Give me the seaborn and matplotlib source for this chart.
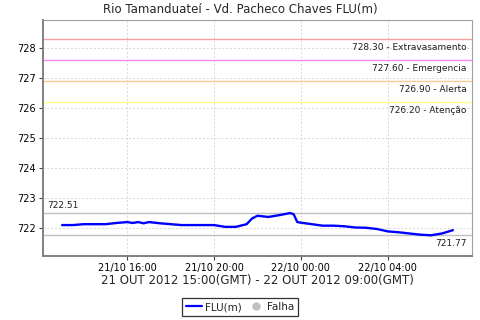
import matplotlib
matplotlib.use("Agg")
import matplotlib.pyplot as plt
import matplotlib.dates as mdates
from matplotlib.lines import Line2D
import seaborn as sns
import pandas as pd
import numpy as np

# ---- data ----
times = ["2012-10-21 13:00", "2012-10-21 13:30", "2012-10-21 14:00", "2012-10-21 14:30",
         "2012-10-21 15:00", "2012-10-21 15:30", "2012-10-21 16:00", "2012-10-21 16:15",
         "2012-10-21 16:30", "2012-10-21 16:45", "2012-10-21 17:00", "2012-10-21 17:15",
         "2012-10-21 17:30", "2012-10-21 18:00", "2012-10-21 18:30", "2012-10-21 19:00",
         "2012-10-21 19:30", "2012-10-21 20:00", "2012-10-21 20:30", "2012-10-21 21:00",
         "2012-10-21 21:30", "2012-10-21 21:45", "2012-10-21 22:00", "2012-10-21 22:30",
         "2012-10-21 23:00", "2012-10-21 23:30", "2012-10-21 23:40", "2012-10-21 23:50",
         "2012-10-22 00:00", "2012-10-22 00:30", "2012-10-22 01:00", "2012-10-22 01:30",
         "2012-10-22 02:00", "2012-10-22 02:30", "2012-10-22 03:00", "2012-10-22 03:30",
         "2012-10-22 04:00", "2012-10-22 04:30", "2012-10-22 05:00", "2012-10-22 05:30",
         "2012-10-22 06:00", "2012-10-22 06:30", "2012-10-22 07:00"]
flu = [722.11, 722.11, 722.14, 722.14,
       722.14, 722.18, 722.21, 722.18,
       722.21, 722.17, 722.21, 722.19,
       722.17, 722.14, 722.11, 722.11,
       722.11, 722.11, 722.05, 722.05,
       722.14, 722.33, 722.42, 722.38,
       722.44, 722.51, 722.47, 722.21,
       722.19, 722.14, 722.09, 722.09,
       722.07, 722.03, 722.02, 721.98,
       721.90, 721.87, 721.83, 721.79,
       721.77, 721.83, 721.94]

thr_values = [728.30, 727.60, 726.90, 726.20]
thr_names = ["Extravasamento", "Emergencia", "Alerta", "Atenção"]
thr_colors = ["#f4a0a0", "#ff88ff", "#ffc890", "#ffff88"]
max_val = 722.51
min_val = 721.77
yticks = [722, 723, 724, 725, 726, 727, 728]
xtick_times = ["2012-10-21 16:00", "2012-10-21 20:00", "2012-10-22 00:00", "2012-10-22 04:00"]

title = "Rio Tamanduateí - Vd. Pacheco Chaves FLU(m)"
xlabel = "21 OUT 2012 15:00(GMT) - 22 OUT 2012 09:00(GMT)"

# ---- plot ----
sns.set_theme(style="white")
plt.rcParams["font.family"] = ["DejaVu Sans"]

df = pd.DataFrame({"time": pd.to_datetime(times), "flu": flu})

fig = plt.figure(figsize=(4.8, 3.2), dpi=100)
ax = fig.add_axes([43/480, 1-256/320, (472-43)/480, (256-20)/320])

for v, c in zip(thr_values, thr_colors):
    ax.axhline(v, color=c, lw=1.0, zorder=2)
ax.axhline(max_val, color="#c0c0c0", lw=1.0, zorder=2)
ax.axhline(min_val, color="#c0c0c0", lw=1.0, zorder=2)

sns.lineplot(data=df, x="time", y="flu", ax=ax, color="#0000ff", lw=1.7, zorder=3)

span = df["time"].max() - df["time"].min()
ax.set_xlim(df["time"].min() - span * 0.049, df["time"].max() + span * 0.049)
ax.set_ylim(721.08, 728.94)

ax.set_yticks(yticks)
ax.set_xticks(pd.to_datetime(xtick_times))
ax.xaxis.set_major_formatter(mdates.DateFormatter("%d/%m %H:%M"))
ax.tick_params(axis="both", labelsize=7, length=3, width=0.8, colors="#404040",
               labelcolor="black", direction="out", pad=2)
ax.tick_params(axis="y", left=True)
ax.tick_params(axis="x", bottom=True, pad=2)

ax.grid(True, color="#d8d8d8", linestyle=(0, (2, 2)), lw=0.7)
ax.set_axisbelow(True)

for s in ["top", "right"]:
    ax.spines[s].set_color("#a0a0a0")
    ax.spines[s].set_linewidth(0.8)
for s in ["left", "bottom"]:
    ax.spines[s].set_color("#808080")
    ax.spines[s].set_linewidth(1.4)

# threshold labels
for v, n in zip(thr_values, thr_names):
    ax.annotate(f"{v:.2f} - {n}", xy=(1, v), xycoords=("axes fraction", "data"),
                xytext=(-4, -3), textcoords="offset points", ha="right", va="top",
                fontsize=6.5, color="#202020")
ax.annotate(f"{max_val:.2f}", xy=(0, max_val), xycoords=("axes fraction", "data"),
            xytext=(3, 2.5), textcoords="offset points", ha="left", va="bottom",
            fontsize=6.5, color="#202020")
ax.annotate(f"{min_val:.2f}", xy=(1, min_val), xycoords=("axes fraction", "data"),
            xytext=(-4, -2.5), textcoords="offset points", ha="right", va="top",
            fontsize=6.5, color="#202020")

ax.set_xlabel(xlabel, fontsize=8.5, labelpad=1)
ax.set_ylabel("")
fig.text(0.5, 1-9/320, title, ha="center", va="center", fontsize=8.5)

handles = [Line2D([0], [0], color="#0000ff", lw=1.6),
           Line2D([0], [0], color="#c0c0c0", marker="o", lw=0, markersize=5)]
leg = fig.legend(handles, ["FLU(m)", "Falha"], loc="center", bbox_to_anchor=(0.5, 1-307/320),
                 ncol=2, fontsize=7.5, frameon=True, fancybox=False, edgecolor="black",
                 handlelength=1.6, handletextpad=0.3, columnspacing=0.5,
                 borderpad=0.35, borderaxespad=0)
leg.get_frame().set_linewidth(0.9)

fig.savefig("out.png", dpi=100)
